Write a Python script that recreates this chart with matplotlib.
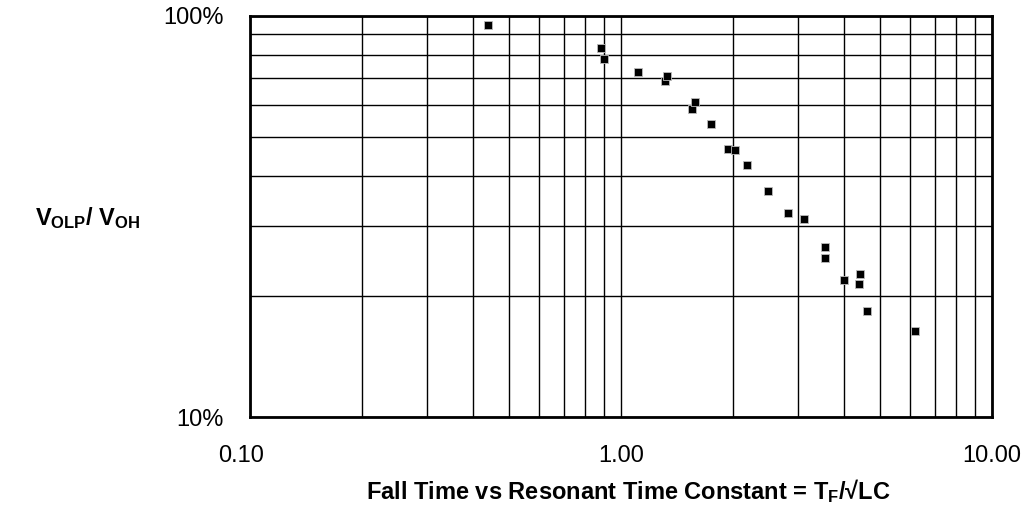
import matplotlib
matplotlib.use("Agg")
import matplotlib.pyplot as plt
from matplotlib.ticker import FixedLocator, NullFormatter, FixedFormatter
from matplotlib.transforms import ScaledTranslation

plt.rcParams['font.family'] = ['Liberation Sans', 'DejaVu Sans']
plt.rcParams['mathtext.fontset'] = 'custom'
plt.rcParams['mathtext.rm'] = 'Liberation Sans'
plt.rcParams['mathtext.bf'] = 'Liberation Sans:bold'
plt.rcParams['mathtext.it'] = 'Liberation Sans:italic'

# data: ratio T_F/sqrt(LC) vs VOLP/VOH (%)
ratio = [0.438, 0.884, 0.899, 1.109, 1.313, 1.329, 1.558, 1.581, 1.753, 1.948,
         2.034, 2.191, 2.495, 2.812, 3.118, 3.541, 3.541, 3.983, 4.41, 4.38,
         4.605, 6.21]
volp_voh = [95.0, 83.4, 78.0, 72.6, 69.0, 70.8, 58.5, 61.1, 53.7, 46.7,
            46.2, 42.4, 36.7, 32.2, 31.2, 26.6, 24.9, 21.9, 22.7, 21.5,
            18.4, 16.4]

x_ticks = [0.1, 1.0, 10.0]
x_tick_labels = ["0.10", "1.00", "10.00"]
y_ticks = [10, 100]
y_tick_labels = ["10%", "100%"]

fig = plt.figure(figsize=(10.25, 5.31), dpi=100)
ax = fig.add_axes([250/1025, 1 - 417/531, 742/1025, 401/531])
ax.set_xscale('log')
ax.set_yscale('log')
ax.set_xlim(0.1, 10)
ax.set_ylim(10, 100)

ax.scatter(ratio, volp_voh, marker='s', s=37, c='black', edgecolors='#bbbbbb',
           linewidths=0.6, zorder=3)

ax.xaxis.set_major_locator(FixedLocator(x_ticks))
ax.xaxis.set_major_formatter(FixedFormatter(x_tick_labels))
ax.xaxis.set_minor_locator(FixedLocator([m * d for d in (0.1, 1.0) for m in range(2, 10)]))
ax.xaxis.set_minor_formatter(NullFormatter())
ax.yaxis.set_major_locator(FixedLocator(y_ticks))
ax.yaxis.set_major_formatter(FixedFormatter(y_tick_labels))
ax.yaxis.set_minor_locator(FixedLocator([m * 10 for m in range(2, 10)]))
ax.yaxis.set_minor_formatter(NullFormatter())

ax.grid(True, which='both', color='black', linewidth=1.0)
ax.set_axisbelow(True)
for sp in ax.spines.values():
    sp.set_linewidth(2.0)
    sp.set_color('black')

ax.tick_params(which='both', length=0)
ax.tick_params(axis='x', which='major', pad=20, labelsize=17)
ax.tick_params(axis='y', which='major', pad=19, labelsize=17)

# first x tick label sits slightly left of its gridline in the reference
first_tick = ax.xaxis.get_major_ticks()[0]
first_tick.label1.set_transform(first_tick.label1.get_transform()
                                + ScaledTranslation(-9/100, 0, fig.dpi_scale_trans))

fig.text(88/1025, 1 - 218/531, r"V$_{\mathbf{OLP}}$/ V$_{\mathbf{OH}}$",
         fontsize=17, fontweight='bold', ha='center', va='center')
fig.text(628/1025, 1 - 491/531,
         r"Fall Time vs Resonant Time Constant = T$_{\mathbf{F}}$/√LC",
         fontsize=17, fontweight='bold', ha='center', va='center')

fig.savefig("out.png", dpi=100, facecolor='white')
